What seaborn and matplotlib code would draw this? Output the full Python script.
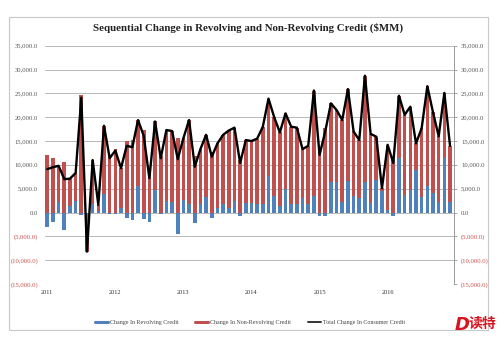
import numpy as np
import pandas as pd
import seaborn as sns
import matplotlib.pyplot as plt
from matplotlib.lines import Line2D
from matplotlib.patches import Rectangle
from matplotlib.ticker import FuncFormatter

# ---- data (millions USD), monthly Jan 2011 - Dec 2016 ----
revolving = [-3000, -1900, 2200, -3600, 1300, 2400, -500, -600, 1800, 300, 3900, -300,
             -300, 900, -1100, -1500, 5600, -1300, -2000, 4800, -400, 2500, 2300, -4500,
             2700, 1800, -2200, 1700, 3200, -1100, 1000, 1800, 1000, 2500, -700, 2000,
             2100, 1800, 1800, 7700, 3400, 1300, 4900, 1700, 1700, 3000, 1800, 3400,
             -700, -800, 6500, 6500, 2300, 6700, 3400, 3000, 6500, 2000, 6900, 4500,
             500, -700, 11400, 3600, 4800, 9000, 3200, 5600, 4100, 2300, 11500, 2300]
non_revolving = [12100, 11400, 7600, 10600, 5800, 5900, 24600, -7600, 9200, 1300, 14300, 11700,
                 13300, 8400, 15100, 15200, 13800, 17400, 9200, 14300, 11800, 14800, 14800, 15700,
                 12900, 17600, 11800, 11600, 13100, 12800, 13500, 14500, 16200, 15300, 11100, 13200,
                 12900, 13700, 16200, 16200, 16600, 15500, 15900, 16300, 16100, 10300, 12200, 22200,
                 12800, 17800, 16400, 15000, 17100, 19200, 13600, 12200, 22200, 14500, 9000, 600,
                 13700, 11100, 13100, 16900, 17400, 5500, 14500, 20900, 16900, 13700, 13600, 11700]
year_labels = ["2011", "2012", "2013", "2014", "2015", "2016"]
series_names = ["Change In Revolving Credit", "Change In Non-Revolving Credit",
                "Total Change In Consumer Credit"]

rev = np.array(revolving, dtype=float)
nrev = np.array(non_revolving, dtype=float)
total = rev + nrev
idx = np.arange(len(rev))
# Excel-style stacking: same-sign values stack, opposite signs start from zero
nrev_bottom = np.where(np.sign(rev) == np.sign(nrev), rev, 0.0)

BLUE = "#4F81BD"
RED = "#C0504D"
NEGRED = "#C8504A"
GRAY = "#555555"

sns.set_theme(style="white")
plt.rcParams['font.family'] = ['Liberation Serif', 'DejaVu Serif']

fig = plt.figure(figsize=(5, 3.39), dpi=100)
fig.patch.set_facecolor("white")
fig.patches.append(Rectangle((9 / 500, 1 - 330 / 339), (488 - 9) / 500, (330 - 17) / 339,
                             transform=fig.transFigure, fill=False,
                             edgecolor="#c8c8c8", lw=0.8))

ax = fig.add_axes([45 / 500, 1 - 284 / 339, (454 - 45) / 500, (284 - 45.7) / 339])

df = pd.DataFrame({"m": idx, "rev": rev, "nrev": nrev, "total": total})
sns.barplot(data=df, x="m", y="rev", color=BLUE, saturation=1, width=0.64,
            ax=ax, zorder=2, linewidth=0)
sns.barplot(data=df, x="m", y="nrev", color=RED, saturation=1, width=0.64,
            ax=ax, zorder=2, linewidth=0, bottom=nrev_bottom)
sns.lineplot(data=df, x="m", y="total", color="black", lw=1.7, ax=ax, zorder=3)

ax.set_xlim(-0.4, 71.7)
ax.set_ylim(-15000, 35000)
yt = np.arange(-15000, 35001, 5000)
ax.set_yticks(yt)


def fmt(v, pos=None):
    return f"{v:,.1f}" if v >= 0 else f"({-v:,.1f})"


ax.yaxis.set_major_formatter(FuncFormatter(fmt))
ax.grid(axis="y", color="#b8b8b8", lw=0.7, zorder=0)
ax.grid(axis="x", visible=False)
ax.set_xticks(np.arange(0, 72, 12))
ax.set_xticklabels(year_labels)
ax.set_xlabel("")
ax.set_ylabel("")
for s in ["left", "top", "bottom"]:
    ax.spines[s].set_visible(False)
ax.spines["right"].set_visible(True)
ax.spines["right"].set_color("#999999")
ax.spines["right"].set_linewidth(0.7)
ax.tick_params(axis="x", length=0, labelsize=4.6, pad=4, labelcolor="#333333")
ax.tick_params(axis="y", length=0, labelsize=4.8, pad=5)
for lbl, v in zip(ax.get_yticklabels(), yt):
    lbl.set_color(NEGRED if v < 0 else GRAY)

ax2 = ax.twinx()
ax2.set_ylim(ax.get_ylim())
ax2.set_yticks(yt)
ax2.yaxis.set_major_formatter(FuncFormatter(fmt))
ax2.tick_params(axis="y", length=2, width=0.6, color="#999999", labelsize=4.8, pad=3)
for lbl, v in zip(ax2.get_yticklabels(), yt):
    lbl.set_color(NEGRED if v < 0 else GRAY)
for s in ["left", "top", "bottom", "right"]:
    ax2.spines[s].set_visible(False)
ax2.grid(False)

fig.text(0.497, 1 - 28 / 339, "Sequential Change in Revolving and Non-Revolving Credit ($MM)",
         ha="center", va="center", fontsize=7.8, fontweight="bold", color="#222222")

handles = [Line2D([], [], color=BLUE, lw=2.2),
           Line2D([], [], color=RED, lw=2.2),
           Line2D([], [], color="#333333", lw=1.4)]
fig.legend(handles, series_names, loc="center", bbox_to_anchor=(0.5, 1 - 322 / 339),
           ncol=3, frameon=False, fontsize=4.3, handlelength=2.2, handletextpad=0.3,
           columnspacing=2.8, labelcolor="#444444")

# watermark
fig.text(455 / 500, 1 - 325 / 339, "D", color="#d7141f", fontsize=13, fontweight="bold",
         style="italic", family=["DejaVu Sans"], ha="left", va="center")
fig.text(469 / 500, 1 - 324 / 339, "读特", color="#d7141f", fontsize=10, fontweight="bold",
         family=["Noto Sans CJK SC", "DejaVu Sans"], ha="left", va="center")

fig.savefig("out.png", dpi=100, facecolor="white")
